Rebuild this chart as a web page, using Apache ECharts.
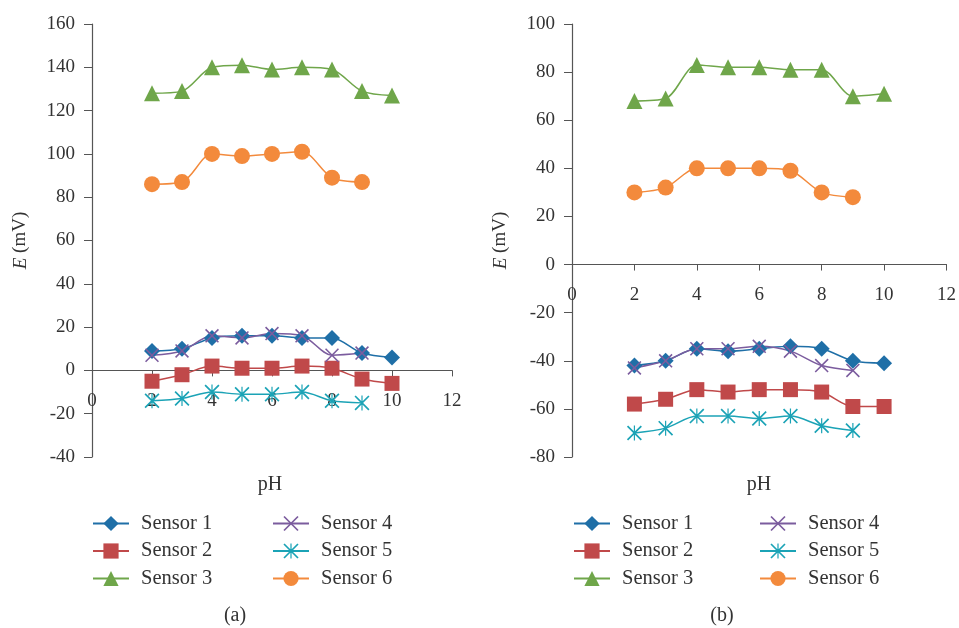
<!DOCTYPE html>
<html lang="en">
<head>
    <meta charset="UTF-8">
    <title>Sensor E vs pH</title>
    <script src="https://cdn.jsdelivr.net/npm/echarts@6/dist/echarts.min.js"></script>
    <style>
        html, body { margin: 0; padding: 0; background: #fff; }
    </style>
</head>
<body>
<div id="chart" style="width:959px;height:628px;"></div>
<script>
    // pH values
    var pH9 = [2, 3, 4, 5, 6, 7, 8, 9, 10];
    var pH8 = [2, 3, 4, 5, 6, 7, 8, 9];

    // (a) E in mV
    var sensor1A = [9, 10, 15, 16, 16, 15, 15, 8, 6];
    var sensor2A = [-5, -2, 2, 1, 1, 2, 1, -4, -6];
    var sensor3A = [128, 129, 140, 141, 139, 140, 139, 129, 127];
    var sensor4A = [7, 9, 16, 15, 17, 16, 7, 8];
    var sensor5A = [-14, -13, -10, -11, -11, -10, -14, -15];
    var sensor6A = [86, 87, 100, 99, 100, 101, 89, 87];

    // (b) E in mV
    var sensor1B = [-42, -40, -35, -36, -35, -34, -35, -40, -41];
    var sensor2B = [-58, -56, -52, -53, -52, -52, -53, -59, -59];
    var sensor3B = [68, 69, 83, 82, 82, 81, 81, 70, 71];
    var sensor4B = [-43, -40, -35, -35, -34, -36, -42, -44];
    var sensor5B = [-70, -68, -63, -63, -64, -63, -67, -69];
    var sensor6B = [30, 32, 40, 40, 40, 39, 30, 28];

    var names = ['Sensor 1', 'Sensor 2', 'Sensor 3', 'Sensor 4', 'Sensor 5', 'Sensor 6'];
    var colors = ['#1f6fa7', '#c0494a', '#6fa64a', '#7b5c9e', '#1ba3b6', '#f38a3c'];

    var crossPath = 'path://M0,1.6L1.6,0L20,18.4L18.4,20ZM18.4,0L20,1.6L1.6,20L0,18.4Z';
    var starPath = 'path://M0,1.6L1.6,0L20,18.4L18.4,20ZM18.4,0L20,1.6L1.6,20L0,18.4ZM9.2,0L10.8,0L10.8,20L9.2,20Z';
    var symbols = ['diamond', 'rect', 'triangle', crossPath, starPath, 'circle'];
    var sizes = [16, 15, 16, 14, 15, 16];

    var font = '"Liberation Serif", "DejaVu Serif", serif';
    var textColor = '#333';
    var gridH = 433;

    function pairs(xs, ys) {
        var res = [];
        for (var i = 0; i < ys.length; i++) {
            res.push([xs[i], ys[i]]);
        }
        return res;
    }

    function makeSeries(idx, data, grid) {
        return {
            name: names[idx],
            type: 'line',
            xAxisIndex: grid,
            yAxisIndex: grid,
            data: data,
            smooth: 0.3,
            symbol: symbols[idx],
            symbolSize: sizes[idx],
            showAllSymbol: true,
            lineStyle: { color: colors[idx], width: 1.5 },
            itemStyle: { color: colors[idx] },
            emphasis: { disabled: true }
        };
    }

    // x axis crosses y at 0: shift it up from the grid bottom
    function xAxisOf(grid, yMin, yMax) {
        return {
            type: 'value',
            gridIndex: grid,
            min: 0, max: 12, interval: 2,
            offset: -gridH * (0 - yMin) / (yMax - yMin),
            splitLine: { show: false },
            axisLine: { onZero: false, lineStyle: { color: '#555', width: 1.2 } },
            axisTick: { show: true, length: 6, lineStyle: { color: '#555' } },
            axisLabel: { margin: 21, fontSize: 19, fontFamily: font, color: textColor }
        };
    }

    function yAxisOf(grid, min, max) {
        return {
            type: 'value',
            gridIndex: grid,
            min: min, max: max, interval: 20,
            name: '{i|E} (mV)',
            nameLocation: 'middle',
            nameGap: 62,
            nameTextStyle: {
                fontSize: 19, fontFamily: font, color: textColor,
                rich: { i: { fontStyle: 'italic', fontSize: 19, fontFamily: font, color: textColor } }
            },
            splitLine: { show: false },
            axisLine: { show: true, onZero: false, lineStyle: { color: '#555', width: 1.2 } },
            axisTick: { show: true, length: 8, lineStyle: { color: '#555' } },
            axisLabel: { margin: 17, fontSize: 19, fontFamily: font, color: textColor }
        };
    }

    function legendOf(items, left) {
        return {
            data: items,
            orient: 'vertical',
            left: left,
            top: 513,
            padding: 0,
            itemWidth: 36,
            itemHeight: 19,
            itemGap: 6.5,
            selectedMode: false,
            textStyle: { fontSize: 20.5, fontFamily: font, color: textColor, lineHeight: 21, padding: [0, 0, 0, 7] }
        };
    }

    function label(text, x, y) {
        return {
            type: 'text',
            x: x, y: y,
            style: {
                text: text, fontSize: 20, fontFamily: font, fill: textColor,
                align: 'center', verticalAlign: 'middle'
            }
        };
    }

    var myChart = echarts.init(document.getElementById('chart'));
    myChart.setOption({
        animation: false,
        backgroundColor: '#fff',
        grid: [
            { left: 92, top: 24, width: 360, height: gridH },
            { left: 572, top: 24, width: 376, height: gridH }
        ],
        xAxis: [xAxisOf(0, -40, 160), xAxisOf(1, -80, 100)],
        yAxis: [yAxisOf(0, -40, 160), yAxisOf(1, -80, 100)],
        legend: [
            legendOf(names.slice(0, 3), 92),
            legendOf(names.slice(3), 272),
            legendOf(names.slice(0, 3), 573),
            legendOf(names.slice(3), 759)
        ],
        graphic: [
            label('pH', 270, 485),
            label('pH', 759, 485),
            label('(a)', 235, 616),
            label('(b)', 722, 616)
        ],
        series: [
            makeSeries(0, pairs(pH9, sensor1A), 0),
            makeSeries(1, pairs(pH9, sensor2A), 0),
            makeSeries(2, pairs(pH9, sensor3A), 0),
            makeSeries(3, pairs(pH8, sensor4A), 0),
            makeSeries(4, pairs(pH8, sensor5A), 0),
            makeSeries(5, pairs(pH8, sensor6A), 0),
            makeSeries(0, pairs(pH9, sensor1B), 1),
            makeSeries(1, pairs(pH9, sensor2B), 1),
            makeSeries(2, pairs(pH9, sensor3B), 1),
            makeSeries(3, pairs(pH8, sensor4B), 1),
            makeSeries(4, pairs(pH8, sensor5B), 1),
            makeSeries(5, pairs(pH8, sensor6B), 1)
        ]
    });
</script>
</body>
</html>
